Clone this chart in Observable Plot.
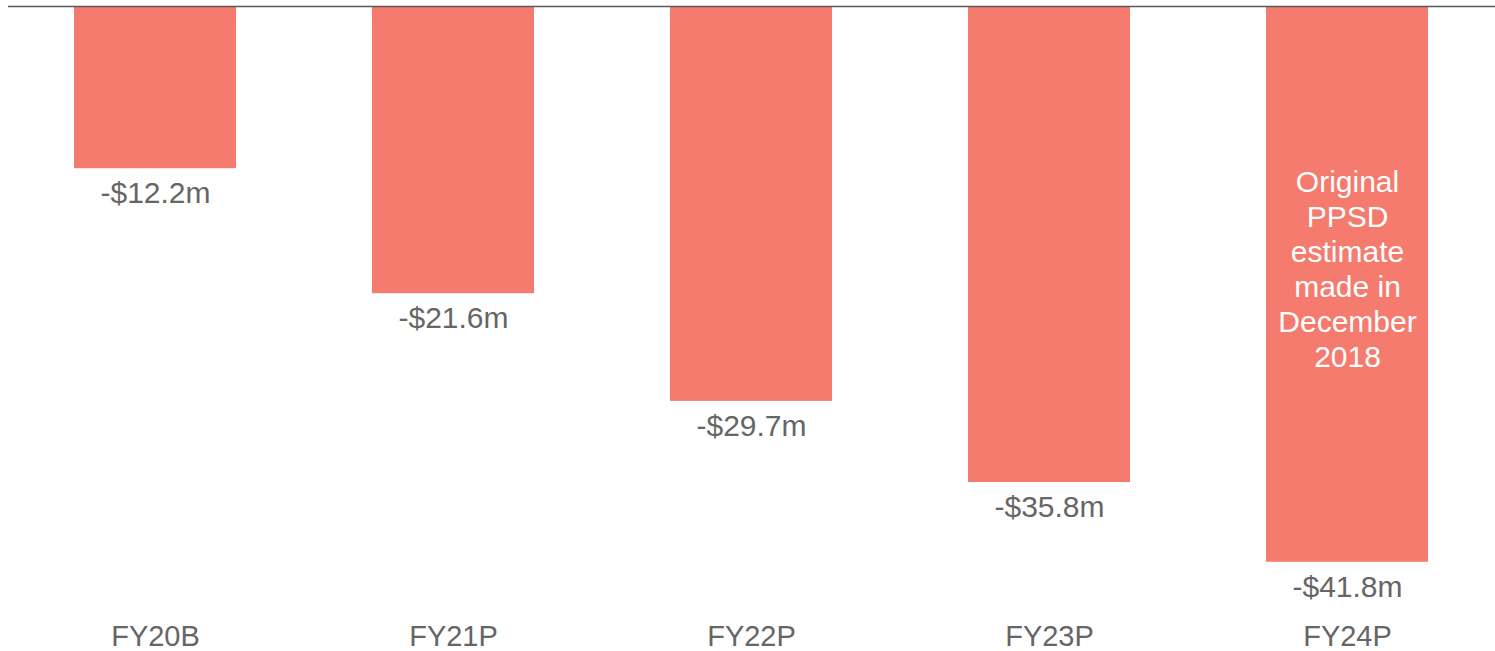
<!DOCTYPE html>
<html>
<head>
<meta charset="utf-8">
<script src="https://cdn.jsdelivr.net/npm/d3@7"></script>
<script src="https://cdn.jsdelivr.net/npm/@observablehq/plot@0.6"></script>
<style>
  html, body { margin: 0; padding: 0; background: #ffffff; }
  #chart { width: 1495px; height: 651px; }
</style>
</head>
<body>
<div id="chart"></div>
<script>
const categories = ["FY20B", "FY21P", "FY22P", "FY23P", "FY24P"];
const values = [-12.2, -21.6, -29.7, -35.8, -41.8];
const valueLabels = ["-$12.2m", "-$21.6m", "-$29.7m", "-$35.8m", "-$41.8m"];
const noteCategory = "FY24P";
const noteText = "Original\nPPSD\nestimate\nmade in\nDecember\n2018";

const data = categories.map((c, i) => ({ cat: c, value: values[i], label: valueLabels[i] }));
const noteValue = values[categories.indexOf(noteCategory)];

const chart = Plot.plot({
  width: 1495,
  height: 651,
  marginTop: 6,
  marginBottom: 48,
  marginLeft: 8,
  marginRight: 0,
  style: { fontFamily: "'Liberation Sans', Arial, sans-serif", background: "#ffffff" },
  x: { domain: categories, paddingInner: 0.456, paddingOuter: 0.22, label: null },
  y: { domain: [-44.9, 0], axis: null },
  marks: [
    Plot.barY(data, { x: "cat", y: "value", fill: "#F47B6E" }),
    Plot.ruleY([0], { stroke: "#595959", strokeWidth: 1.5 }),
    Plot.text(data, { x: "cat", y: "value", text: "label", fontSize: 30, fill: "#666666", dy: 25, lineAnchor: "middle" }),
    Plot.text([{ cat: noteCategory, y: noteValue / 2, t: noteText }], { x: "cat", y: "y", text: "t", fill: "#ffffff", fontSize: 30, lineHeight: 1.17, lineAnchor: "middle", dy: -16 }),
    Plot.axisX({ tickSize: 0, tickPadding: 22, fontSize: 29, color: "#666666", label: null })
  ]
});
document.getElementById("chart").appendChild(chart);
</script>
</body>
</html>
